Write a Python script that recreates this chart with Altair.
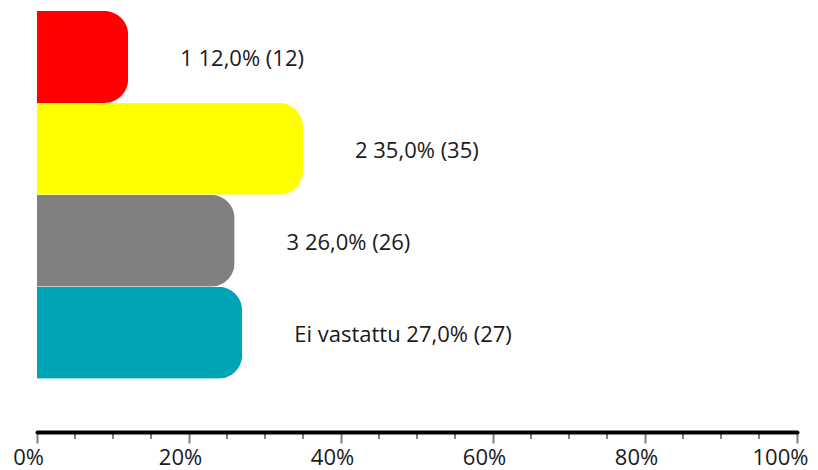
import altair as alt
import pandas as pd

categories = ["1", "2", "3", "Ei vastattu"]
counts = [12, 35, 26, 27]
percents = [12.0, 35.0, 26.0, 27.0]
colors = ["#FF0000", "#FFFF00", "#808080", "#00A5B5"]
major_ticks = [0, 20, 40, 60, 80, 100]
minor_ticks = [v for v in range(5, 100, 5) if v % 20 != 0]

df = pd.DataFrame({
    "cat": categories,
    "count": counts,
    "pct": percents,
    "color": colors,
})
df["label"] = [f"{c} {p:.1f}".replace(".", ",") + f"% ({n})" for c, p, n in zip(categories, percents, counts)]

FONT = "Open Sans"
H = 421

yscale = alt.Scale(domain=categories, paddingInner=0, paddingOuter=0.29, align=0)
xscale = alt.Scale(domain=[0, 100], nice=False)

bars = alt.Chart(df).mark_bar(cornerRadiusEnd=24).encode(
    x=alt.X("pct:Q", scale=xscale,
            axis=alt.Axis(values=major_ticks,
                          labelExpr="datum.value + '%'",
                          orient="bottom", title=None, grid=False,
                          domainColor="black", domainWidth=4, domainCap="round",
                          tickColor="#808080", tickWidth=2, tickSize=11,
                          labelFont=FONT, labelFontSize=22, labelColor="#1a1a1a",
                          labelPadding=4, labelFlush=False, labelOverlap=False,
                          labelOffset={"condition": {"test": "datum.value === 100", "value": -17}, "value": -9},
                          zindex=1)),
    y=alt.Y("cat:N", scale=yscale, axis=None, sort=categories),
    color=alt.Color("color:N", scale=None),
)

minor_df = pd.DataFrame({"v": minor_ticks})
minor = alt.Chart(minor_df).mark_rule(color="#808080", strokeWidth=2).encode(
    x=alt.X("v:Q", scale=xscale),
    y=alt.value(H),
    y2=alt.value(H + 7),
)

text = alt.Chart(df).mark_text(align="left", baseline="middle", dx=52, dy=2,
                               font=FONT, fontSize=22, color="#1a1a1a").encode(
    x=alt.X("pct:Q", scale=xscale),
    y=alt.Y("cat:N", scale=yscale, sort=categories),
    text="label:N",
)

chart = alt.layer(bars, minor, text).properties(
    width=760, height=H,
    autosize=alt.AutoSizeParams(type="none"),
    padding={"left": 29, "top": 3, "right": 13, "bottom": 38},
).configure_view(stroke=None, clip=False)

chart.save("out.html", embed_options={"renderer": "svg", "actions": False})
